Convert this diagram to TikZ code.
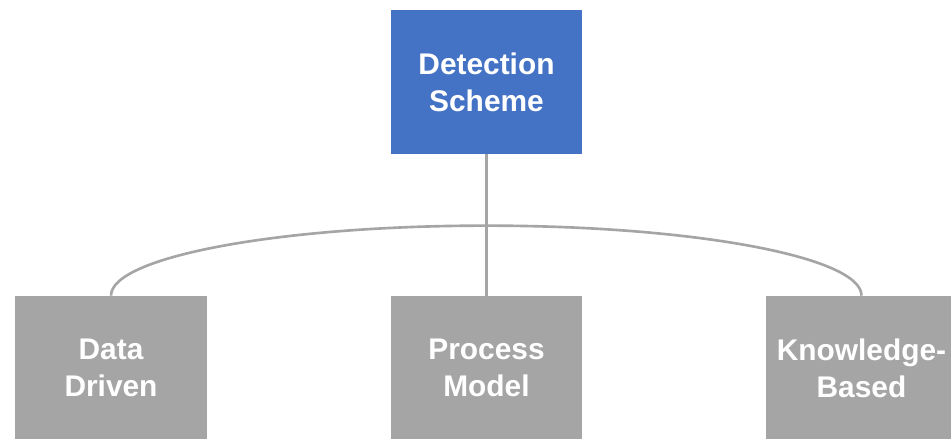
\documentclass[tikz,border=0pt]{standalone}
\usepackage{fontspec}
\setmainfont{Liberation Sans}
\usepackage{tikz}

\definecolor{schemeblue}{HTML}{4472C4}
\definecolor{schemegray}{HTML}{A5A5A5}

\tikzset{
    box/.style={rectangle, minimum width=3.82cm, minimum height=2.88cm, inner sep=0pt,
        align=center, text=white, font=\fontsize{17}{21}\selectfont\bfseries},
    link/.style={draw=schemegray, line width=1.5pt}
}

\begin{document}
\begin{tikzpicture}
        \useasboundingbox (0,0) rectangle (19.02,8.78);

        % the root of the tree
        \node[box, fill=schemeblue] (scheme) at (9.73,7.14) {Detection\\Scheme};

        % the three kinds of schemes
        \node[box, fill=schemegray] (data) at (2.22,1.42) {Data\\Driven};
        \node[box, fill=schemegray] (process) at (9.73,1.42) {Process\\Model};
        \node[box, fill=schemegray] (knowledge) at (17.23,1.42) {Knowledge-\\Based};

        % draw the links
        \draw[link] (scheme) -- (process);
        \draw[link] (data.north) arc[start angle=180, end angle=0, x radius=7.505cm, y radius=1.4cm];

    \end{tikzpicture}
\end{document}
